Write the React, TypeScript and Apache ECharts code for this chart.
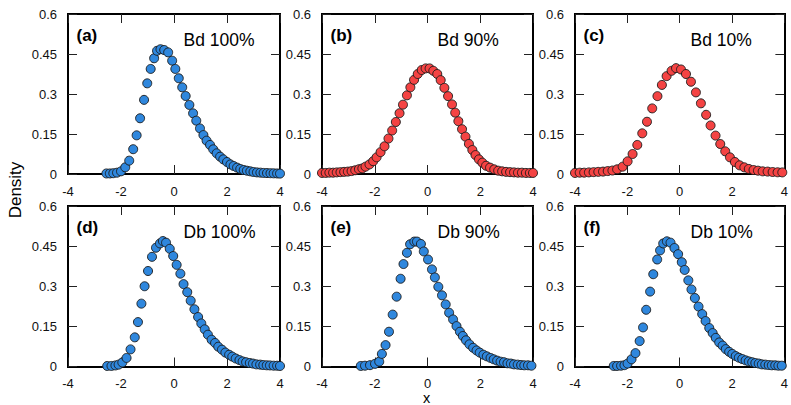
import React, { useEffect, useRef } from "react";
import * as echarts from "echarts";

const xTicks = [-4, -2, 0, 2, 4];
const yTicks = [0, 0.15, 0.3, 0.45, 0.6];
const panelLabels = ["(a)", "(b)", "(c)", "(d)", "(e)", "(f)"];
const panelTitles = ["Bd 100%", "Bd 90%", "Bd 10%", "Db 100%", "Db 90%", "Db 10%"];
const panelColorKeys = ["blue", "red", "red", "blue", "blue", "blue"];
const xTitle = "x";
const yTitle = "Density";

const aX = [-2.55, -2.42, -2.29, -2.15, -2.0, -1.84, -1.69, -1.54, -1.41, -1.28, -1.13, -1.01, -0.88, -0.75, -0.64, -0.51, -0.37, -0.22, -0.07, 0.05, 0.18, 0.31, 0.44, 0.58, 0.72, 0.84, 0.98, 1.11, 1.23, 1.36, 1.48, 1.61, 1.74, 1.86, 2.0, 2.13, 2.25, 2.38, 2.5, 2.63, 2.75, 2.88, 3.0, 3.13, 3.26, 3.38, 3.51, 3.64, 3.76, 3.89, 4.0];
const aY = [0.002, 0.002, 0.003, 0.005, 0.01, 0.025, 0.05, 0.093, 0.145, 0.209, 0.278, 0.34, 0.394, 0.434, 0.462, 0.468, 0.465, 0.456, 0.425, 0.394, 0.359, 0.325, 0.2925, 0.259, 0.2275, 0.2, 0.171, 0.146, 0.125, 0.109, 0.0925, 0.0775, 0.065, 0.055, 0.045, 0.036, 0.03, 0.024, 0.019, 0.015, 0.0125, 0.01, 0.0075, 0.006, 0.005, 0.004, 0.0035, 0.003, 0.0025, 0.002, 0.0015];

const bX = [-4.0, -3.86, -3.72, -3.58, -3.44, -3.3, -3.16, -3.02, -2.88, -2.74, -2.6, -2.47, -2.35, -2.2, -2.06, -1.93, -1.78, -1.63, -1.48, -1.34, -1.2, -1.06, -0.93, -0.78, -0.65, -0.51, -0.37, -0.22, -0.07, 0.08, 0.22, 0.37, 0.5, 0.64, 0.78, 0.93, 1.05, 1.17, 1.31, 1.44, 1.57, 1.7, 1.82, 1.95, 2.08, 2.22, 2.37, 2.53, 2.68, 2.83, 2.98, 3.13, 3.28, 3.43, 3.58, 3.73, 3.88, 4.0];
const bY = [0.004, 0.004, 0.005, 0.005, 0.006, 0.007, 0.008, 0.009, 0.011, 0.014, 0.018, 0.021, 0.0275, 0.036, 0.048, 0.0625, 0.082, 0.104, 0.133, 0.163, 0.195, 0.228, 0.26, 0.295, 0.325, 0.353, 0.375, 0.39, 0.396, 0.396, 0.387, 0.375, 0.352, 0.323, 0.292, 0.261, 0.23, 0.198, 0.168, 0.14, 0.113, 0.09, 0.071, 0.055, 0.0425, 0.031, 0.024, 0.0175, 0.0125, 0.01, 0.008, 0.007, 0.006, 0.005, 0.005, 0.004, 0.004, 0.004];

const cX = [-4.0, -3.82, -3.65, -3.47, -3.29, -3.11, -2.93, -2.75, -2.57, -2.39, -2.18, -1.99, -1.8, -1.62, -1.43, -1.25, -1.05, -0.85, -0.68, -0.5, -0.31, -0.14, 0.05, 0.24, 0.43, 0.62, 0.81, 1.01, 1.18, 1.37, 1.55, 1.74, 1.92, 2.11, 2.29, 2.47, 2.64, 2.82, 2.99, 3.17, 3.36, 3.55, 3.74, 3.92];
const cY = [0.004, 0.005, 0.005, 0.006, 0.007, 0.008, 0.009, 0.011, 0.013, 0.0175, 0.0275, 0.0475, 0.075, 0.109, 0.1525, 0.196, 0.246, 0.292, 0.334, 0.367, 0.387, 0.397, 0.392, 0.375, 0.346, 0.306, 0.265, 0.222, 0.182, 0.144, 0.1125, 0.085, 0.0625, 0.045, 0.0325, 0.025, 0.019, 0.015, 0.0125, 0.01, 0.009, 0.0075, 0.0065, 0.006];

const dX = [-2.52, -2.36, -2.21, -2.09, -1.95, -1.79, -1.64, -1.48, -1.36, -1.23, -1.11, -0.98, -0.83, -0.68, -0.53, -0.42, -0.3, -0.16, -0.03, 0.1, 0.24, 0.36, 0.5, 0.63, 0.77, 0.91, 1.03, 1.16, 1.28, 1.42, 1.55, 1.67, 1.81, 1.94, 2.08, 2.2, 2.33, 2.47, 2.59, 2.72, 2.86, 2.98, 3.11, 3.25, 3.37, 3.5, 3.62, 3.76, 3.89, 4.0];
const dY = [0.002, 0.002, 0.004, 0.007, 0.015, 0.032, 0.064, 0.109, 0.166, 0.235, 0.3, 0.357, 0.41, 0.444, 0.46, 0.469, 0.463, 0.44, 0.413, 0.38, 0.347, 0.308, 0.278, 0.246, 0.214, 0.185, 0.161, 0.139, 0.119, 0.1, 0.088, 0.074, 0.063, 0.052, 0.044, 0.037, 0.03, 0.024, 0.019, 0.016, 0.013, 0.011, 0.008, 0.007, 0.0055, 0.0045, 0.004, 0.003, 0.003, 0.002];

const eX = [-2.53, -2.37, -2.18, -1.99, -1.83, -1.73, -1.59, -1.46, -1.32, -1.17, -1.02, -0.91, -0.78, -0.66, -0.5, -0.4, -0.25, -0.14, 0.02, 0.17, 0.28, 0.41, 0.55, 0.69, 0.82, 0.97, 1.1, 1.23, 1.34, 1.46, 1.59, 1.73, 1.86, 1.98, 2.12, 2.25, 2.39, 2.51, 2.64, 2.77, 2.9, 3.03, 3.16, 3.28, 3.42, 3.55, 3.67, 3.81, 3.94];
const eY = [0.002, 0.003, 0.005, 0.01, 0.018, 0.047, 0.08, 0.13, 0.194, 0.261, 0.328, 0.383, 0.425, 0.457, 0.467, 0.467, 0.458, 0.43, 0.4, 0.363, 0.333, 0.298, 0.266, 0.232, 0.201, 0.176, 0.151, 0.13, 0.114, 0.098, 0.083, 0.07, 0.06, 0.052, 0.044, 0.038, 0.032, 0.027, 0.022, 0.018, 0.016, 0.012, 0.011, 0.008, 0.007, 0.0055, 0.0045, 0.0045, 0.003];

const fX = [-2.52, -2.39, -2.24, -2.11, -1.99, -1.84, -1.69, -1.53, -1.4, -1.28, -1.13, -1.01, -0.86, -0.75, -0.63, -0.49, -0.35, -0.2, -0.06, 0.08, 0.19, 0.33, 0.45, 0.58, 0.72, 0.86, 0.99, 1.13, 1.26, 1.38, 1.51, 1.64, 1.76, 1.89, 2.01, 2.14, 2.26, 2.39, 2.52, 2.64, 2.77, 2.89, 3.02, 3.14, 3.27, 3.4, 3.52, 3.65, 3.77, 3.9];
const fY = [0.002, 0.002, 0.003, 0.005, 0.011, 0.027, 0.05, 0.095, 0.146, 0.212, 0.28, 0.345, 0.4, 0.434, 0.46, 0.468, 0.463, 0.443, 0.42, 0.39, 0.361, 0.322, 0.288, 0.256, 0.224, 0.196, 0.17, 0.144, 0.125, 0.107, 0.09, 0.078, 0.065, 0.055, 0.047, 0.039, 0.033, 0.028, 0.023, 0.019, 0.016, 0.013, 0.011, 0.008, 0.007, 0.0055, 0.0045, 0.0045, 0.003, 0.003];

const panelXs = [aX, bX, cX, dX, eX, fX];
const panelYs = [aY, bY, cY, dY, eY, fY];

const FONT = "'Liberation Sans', Arial, Helvetica, sans-serif";
const COLORS: Record<string, string> = { blue: "#2f87dd", red: "#f44343" };

// layout (pixels): left, top, width, height
const RECTS = [
  [68, 14, 212, 160],
  [322, 14, 211, 160],
  [575, 14, 212, 160],
  [68, 206, 212, 160.5],
  [322, 206, 211, 160.5],
  [575, 206, 212, 160.5],
];

export default function App() {
  const ref = useRef<HTMLDivElement>(null);
  useEffect(() => {
    if (!ref.current) return;
    const chart = echarts.init(ref.current, undefined, { renderer: "svg" });
    const grid: any[] = [];
    const xAxis: any[] = [];
    const yAxis: any[] = [];
    const series: any[] = [];
    const graphic: any[] = [];
    const xMin = xTicks[0];
    const xMax = xTicks[xTicks.length - 1];
    const xInt = xTicks[1] - xTicks[0];
    const yMin = yTicks[0];
    const yMax = yTicks[yTicks.length - 1];
    const yInt = yTicks[1] - yTicks[0];
    const tick = { show: true, inside: true, length: 9, lineStyle: { color: "#222", width: 1 } };
    const line = { show: true, onZero: false, lineStyle: { color: "#000", width: 2, cap: "square" } };
    const label = { margin: 11, fontSize: 13, color: "#111", fontFamily: FONT };

    RECTS.forEach((r, i) => {
      const [left, top, width, height] = r;
      grid.push({ left, top, width, height, show: false });
      const xBase = { gridIndex: i, type: "value", min: xMin, max: xMax, interval: xInt, splitLine: { show: false }, axisLine: line, axisTick: tick };
      xAxis.push({ ...xBase, position: "bottom", axisLabel: { ...label, margin: 10.5 } });
      xAxis.push({ ...xBase, position: "top", axisLabel: { show: false } });
      const yBase = { gridIndex: i, type: "value", min: yMin, max: yMax, interval: yInt, splitLine: { show: false }, axisLine: line, axisTick: tick };
      yAxis.push({ ...yBase, position: "left", axisLabel: { ...label, formatter: (v: number) => String(Math.round(v * 100) / 100) } });
      yAxis.push({ ...yBase, position: "right", axisLabel: { show: false } });

      const xs = panelXs[i];
      const ys = panelYs[i];
      series.push({
        type: "scatter",
        xAxisIndex: i * 2,
        yAxisIndex: i * 2,
        data: xs.map((x, k) => [x, ys[k]]),
        symbol: "circle",
        symbolSize: 9,
        clip: true,
        itemStyle: { color: COLORS[panelColorKeys[i]], borderColor: "#1a1a1a", borderWidth: 0.9, opacity: 1 },
        emphasis: { disabled: true },
      });

      graphic.push({
        type: "text", x: left + 8.5, y: top + 21,
        style: { text: panelLabels[i], font: `bold 17px ${FONT}`, fill: "#000", align: "left", verticalAlign: "middle" },
      });
      graphic.push({
        type: "text", x: left + 115.5, y: top + 25.6,
        style: { text: panelTitles[i], font: `17.5px ${FONT}`, fill: "#000", align: "left", verticalAlign: "middle" },
      });
    });

    graphic.push({
      type: "text", x: 15, y: 190, rotation: Math.PI / 2,
      style: { text: yTitle, font: `17px ${FONT}`, fill: "#000", align: "center", verticalAlign: "middle" },
    });
    graphic.push({
      type: "text", x: 426.7, y: 398.2,
      style: { text: xTitle, font: `14.5px ${FONT}`, fill: "#000", align: "center", verticalAlign: "middle" },
    });

    chart.setOption({
      animation: false,
      backgroundColor: "#fff",
      grid, xAxis, yAxis, series, graphic,
    });
    return () => chart.dispose();
  }, []);
  return <div ref={ref} style={{ position: "fixed", left: 0, top: 0, width: 791, height: 405 }} />;
}
